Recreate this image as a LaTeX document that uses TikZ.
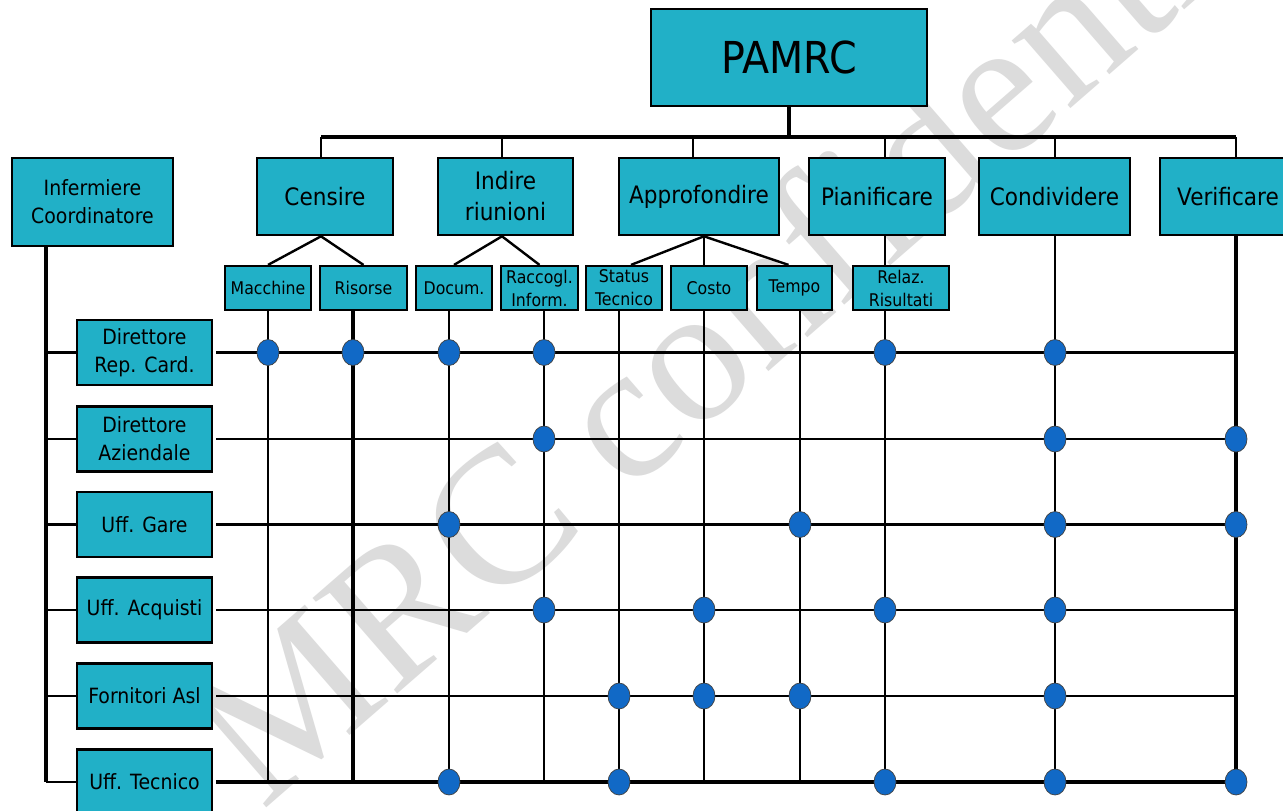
\documentclass[tikz,border=0pt]{standalone}
\usepackage{fontspec}
\setmainfont{DejaVu Sans}[FakeStretch=0.9]
\newfontfamily\wmfont{Liberation Serif}
\usetikzlibrary{shapes.geometric,backgrounds}
\definecolor{boxfill}{RGB}{33,176,199}
\definecolor{dotfill}{RGB}{17,105,198}
\definecolor{wmgray}{RGB}{220,220,220}
\begin{document}
\begin{tikzpicture}[x=1pt,y=-1pt,
  box/.style={draw, line width=2.6pt, fill=boxfill, inner sep=0pt, align=center, text=black},
  lvl/.style={box, minimum height=77, font=\fontsize{24}{31}\selectfont},
  sub/.style={box, line width=2.2pt, minimum height=44, font=\fontsize{17.5}{23}\selectfont},
  role/.style={box, minimum width=135, minimum height=65, font=\fontsize{21}{28}\selectfont},
  ln/.style={line width=2.4pt},
  lnb/.style={line width=3.2pt},
  dot/.style={ellipse, draw=black!75, line width=0.7pt, fill=dotfill, minimum width=22, minimum height=26, inner sep=0pt}]
\useasboundingbox (0,0) rectangle (1283,811);
\clip (0,0) rectangle (1283,811);

% column and row coordinates
\coordinate (bus) at (0,137);
\coordinate (ccen) at (321,0);
\coordinate (cind) at (502,0);
\coordinate (capp) at (693,0);
\coordinate (capx) at (704,0);
\coordinate (cpia) at (885,0);
\coordinate (ccon) at (1055,0);
\coordinate (cver) at (1236,0);
\coordinate (cmac) at (268,0);
\coordinate (cris) at (353,0);
\coordinate (cdoc) at (449,0);
\coordinate (crac) at (544,0);
\coordinate (csta) at (619,0);
\coordinate (ccos) at (704,0);
\coordinate (ctem) at (800,0);
\coordinate (crel) at (885,0);
\coordinate (cinf) at (46,0);

% nodes
\node[box, minimum width=276, minimum height=97, font=\fontsize{44}{44}\selectfont] (pamrc) at (789,57.5) {PAMRC};
\node[box, minimum width=161, minimum height=88, font=\fontsize{21}{28}\selectfont] (infc) at (92.5,202) {Infermiere\\Coordinatore};
\node[lvl, minimum width=136] (censire) at (325,196.5) {Censire};
\node[lvl, minimum width=135] (indire) at (505.5,196.5) {Indire\\riunioni};
\node[lvl, minimum width=160] (approf) at (699,196.5) {Approfondire};
\node[lvl, minimum width=136] (pianif) at (877,196.5) {Pianificare};
\node[lvl, minimum width=151] (condiv) at (1054.5,196.5) {Condividere};
\node[lvl, minimum width=136] (verif) at (1228,196.5) {Verificare};

\node[sub, minimum width=86] (mac) at (268,288) {Macchine};
\node[sub, minimum width=87] (ris) at (363.5,288) {Risorse};
\node[sub, minimum width=76] (doc) at (454,288) {Docum.};
\node[sub, minimum width=77] (rac) at (539.5,288) {Raccogl.\\Inform.};
\node[sub, minimum width=76] (sta) at (624,288) {Status\\Tecnico};
\node[sub, minimum width=76] (cos) at (709,288) {Costo};
\node[sub, minimum width=75] (tem) at (794.5,288) {Tempo};
\node[sub, minimum width=96] (rel) at (901,288) {Relaz.\\Risultati};

\node[role] (r1) at (144.5,352.5) {Direttore\\Rep. Card.};
\node[role] (r2) at (144.5,439) {Direttore\\Aziendale};
\node[role] (r3) at (144.5,524.5) {Uff. Gare};
\node[role] (r4) at (144.5,610) {Uff. Acquisti};
\node[role] (r5) at (144.5,696) {Fornitori Asl};
\node[role] (r6) at (144.5,782) {Uff. Tecnico};

\begin{scope}[on background layer]
  \fill[white] (0,0) rectangle (1283,811);
  % watermark
  \node[rotate=41, anchor=base west, inner sep=0pt, text=wmgray,
        font=\wmfont\fontsize{195}{195}\selectfont] (wm) at (262,812) {MRC confidential};

  % top bus
  \draw[lnb] (pamrc.south) -- (pamrc.south |- bus);
  \draw[lnb] (ccen |- bus) -- (cver |- bus);
  \foreach \c/\n in {ccen/censire, cind/indire, capp/approf, cpia/pianif, ccon/condiv, cver/verif}
    \draw[ln] (\c |- bus) -- (\c |- \n.north);

  % fan-out to sub boxes
  \draw[ln] (ccen |- censire.south) -- (mac.north);
  \draw[ln] (ccen |- censire.south) -- (ris.north);
  \draw[ln] (cind |- indire.south) -- (doc.north);
  \draw[ln] (cind |- indire.south) -- (rac.north);
  \draw[ln] (capx |- approf.south) -- ([xshift=7]sta.north);
  \draw[ln] (capx |- approf.south) -- (ccos |- cos.north);
  \draw[ln] (capx |- approf.south) -- ([xshift=-6]tem.north);
  \draw[ln] (crel |- pianif.south) -- (crel |- rel.north);

  % left spine
  \draw[lnb] (cinf |- infc.south) -- (cinf |- r6);
  \foreach \r in {r1,r2,r3,r4,r5,r6}
    \draw[ln] (cinf |- \r) -- (\r.west);

  % rows
  \draw[ln]  ([xshift=3]r1.east) -- (cver |- r1);
  \draw[ln]  ([xshift=3]r2.east) -- (cver |- r2);
  \draw[lnb] ([xshift=3]r3.east) -- (cver |- r3);
  \draw[ln]  ([xshift=3]r4.east) -- (cver |- r4);
  \draw[ln]  ([xshift=3]r5.east) -- (cver |- r5);
  \draw[lnb] ([xshift=3]r6.east) -- (cver |- r6);

  % columns
  \draw[ln]  (cmac |- mac.south) -- (cmac |- r6);
  \draw[lnb] (cris |- ris.south) -- (cris |- r6);
  \draw[ln]  (cdoc |- doc.south) -- (cdoc |- r6);
  \draw[ln]  (crac |- rac.south) -- (crac |- r6);
  \draw[ln]  (csta |- sta.south) -- (csta |- r6);
  \draw[ln]  (ccos |- cos.south) -- (ccos |- r6);
  \draw[ln]  (ctem |- tem.south) -- (ctem |- r6);
  \draw[ln]  (crel |- rel.south) -- (crel |- r6);
  \draw[ln]  (ccon |- condiv.south) -- (ccon |- r6);
  \draw[lnb] (cver |- verif.south) -- (cver |- r6);
\end{scope}

% dots
\foreach \c/\r [count=\i] in {cmac/r1, cris/r1, cdoc/r1, crac/r1, crel/r1, ccon/r1,
    crac/r2, ccon/r2, cver/r2,
    cdoc/r3, ctem/r3, ccon/r3, cver/r3,
    crac/r4, ccos/r4, crel/r4, ccon/r4,
    csta/r5, ccos/r5, ctem/r5, ccon/r5,
    cdoc/r6, csta/r6, crel/r6, ccon/r6, cver/r6}
  \node[dot] (dot\i) at (\c |- \r) {};
\end{tikzpicture}
\end{document}
